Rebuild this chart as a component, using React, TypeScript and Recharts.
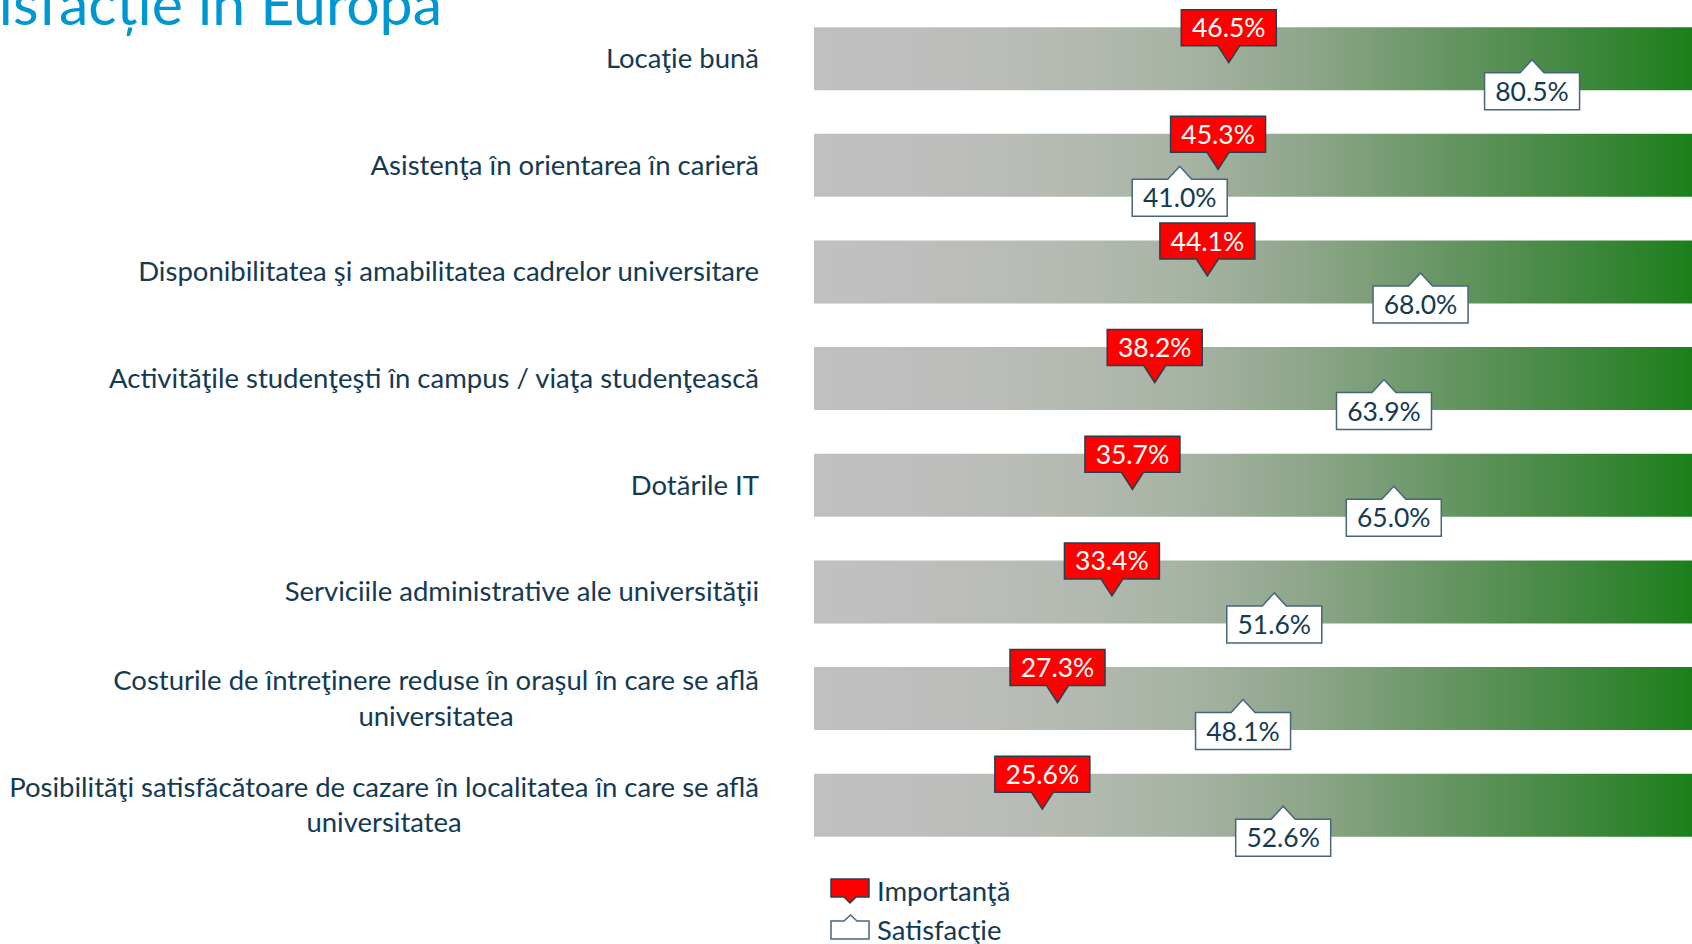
import React, { useLayoutEffect, useRef, useState } from 'react';
import { ComposedChart, Bar, XAxis, YAxis, Legend } from 'recharts';

const categories = [
  'Locaţie bună',
  'Asistenţa în orientarea în carieră',
  'Disponibilitatea şi amabilitatea cadrelor universitare',
  'Activităţile studenţeşti în campus / viaţa studenţească',
  'Dotările IT',
  'Serviciile administrative ale universităţii',
  'Costurile de întreţinere reduse în oraşul în care se află\nuniversitatea',
  'Posibilităţi satisfăcătoare de cazare în localitatea în care se află\nuniversitatea',
];
const importanta = [46.5, 45.3, 44.1, 38.2, 35.7, 33.4, 27.3, 25.6];
const satisfactie = [80.5, 41.0, 68.0, 63.9, 65.0, 51.6, 48.1, 52.6];
const seriesNames = ['Importanţă', 'Satisfacţie'];
const titleText = 'Importanță și satisfacție în Europa';

const data = categories.map((c, i) => ({ cat: c, imp: importanta[i], sat: satisfactie[i] }));

const FONT = 'Lato, "Open Sans", sans-serif';
const TEXT_COLOR = '#143a52';
const LABEL_SIZE = 27.5;
const CALLOUT_SIZE = 26.5;
const BOX_W = 95;
const BOX_H = 36;

function CategoryTick(props: any) {
  const { x, y, payload } = props;
  const lines = String(payload.value).split('\n');
  const ref = useRef<SVGTextElement>(null);
  const [w, setW] = useState(0);
  useLayoutEffect(() => {
    if (ref.current) setW(ref.current.getComputedTextLength());
  }, [payload.value]);
  const lh = 35.6;
  const y0 = y - ((lines.length - 1) * lh) / 2;
  const common = { fontFamily: FONT, fontSize: LABEL_SIZE, fill: TEXT_COLOR };
  return (
    <g>
      <text ref={ref} x={x} y={y0} dy="0.35em" textAnchor="end" {...common}>
        {lines[0]}
      </text>
      {lines.slice(1).map((l, i) => (
        <text key={i} x={x - w / 2} y={y0 + (i + 1) * lh} dy="0.35em" textAnchor="middle" {...common}>
          {l}
        </text>
      ))}
    </g>
  );
}

function ImpShape(props: any) {
  const { x, y, width, height, payload } = props;
  if (x == null || payload == null) return null;
  const tx = x + width;
  const ty = y + height / 2 + 4;
  const ph = 17;
  const pw = 11;
  const top = ty - ph - BOX_H;
  const l = tx - BOX_W / 2;
  const r = tx + BOX_W / 2;
  const d = `M${l},${top} H${r} V${top + BOX_H} H${tx + pw} L${tx},${ty} L${tx - pw},${top + BOX_H} H${l} Z`;
  return (
    <g>
      <path d={d} fill="#ff0000" stroke="#24404f" strokeWidth={1.5} strokeLinejoin="miter" />
      <text x={tx} y={top + BOX_H / 2} dy="0.36em" textAnchor="middle" fontFamily={FONT} fontSize={CALLOUT_SIZE} fill="#ffffff">
        {payload.imp.toFixed(1) + '%'}
      </text>
    </g>
  );
}

function SatShape(props: any) {
  const { x, y, width, height, payload } = props;
  if (x == null || payload == null) return null;
  const tx = x + width;
  const ty = y + height / 2 + 1;
  const ph = 13;
  const pw = 12;
  const bh = 37;
  const top = ty + ph;
  const l = tx - BOX_W / 2;
  const r = tx + BOX_W / 2;
  const d = `M${l},${top} H${tx - pw} L${tx},${ty} L${tx + pw},${top} H${r} V${top + bh} H${l} Z`;
  return (
    <g>
      <path d={d} fill="#ffffff" stroke="#46667a" strokeWidth={1.5} />
      <text x={tx} y={top + bh / 2} dy="0.36em" textAnchor="middle" fontFamily={FONT} fontSize={CALLOUT_SIZE} fill={TEXT_COLOR}>
        {payload.sat.toFixed(1) + '%'}
      </text>
    </g>
  );
}

function LegendContent(props: any) {
  const names: string[] =
    props.payload && props.payload.length === 2
      ? props.payload.map((p: any) => String(p.value))
      : seriesNames;
  return (
    <svg width={220} height={74} style={{ display: 'block' }}>
      <path d="M6,9 H44 V27 H31 L25,33 L19,27 H6 Z" fill="#ff0000" stroke="#24404f" strokeWidth={1.5} />
      <text x={52} y={31} fontFamily={FONT} fontSize={LABEL_SIZE} fill={TEXT_COLOR}>
        {names[0]}
      </text>
      <path d="M6,51 H19 L25.5,45 L32,51 H44 V69 H6 Z" fill="#ffffff" stroke="#46667a" strokeWidth={1.5} />
      <text x={52} y={70} fontFamily={FONT} fontSize={LABEL_SIZE} fill={TEXT_COLOR}>
        {names[1]}
      </text>
    </svg>
  );
}

export default function App() {
  return (
    <div
      style={{
        position: 'absolute',
        left: 0,
        top: 0,
        width: 1692,
        height: 944,
        overflow: 'hidden',
        background: '#ffffff',
      }}
    >
      <svg width={1692} height={60} style={{ position: 'absolute', left: 0, top: 0, zIndex: 2 }}>
        <text x={442} y={25} textAnchor="end" fontFamily={FONT} fontSize={59} fill="#0096d0">
          {titleText}
        </text>
      </svg>
      <ComposedChart
        width={1720}
        height={944}
        data={data}
        layout="vertical"
        margin={{ top: 5.2, right: 14, bottom: 11.7, left: 0 }}
        barSize={63}
        barGap={-63}
      >
        <defs>
          <linearGradient id="barGrad" x1="0" y1="0" x2="1" y2="0">
            <stop offset="0" stopColor="#c0c0c0" />
            <stop offset="0.15" stopColor="#bdbebc" />
            <stop offset="0.3" stopColor="#b3b9b0" />
            <stop offset="0.42" stopColor="#a6b3a3" />
            <stop offset="0.55" stopColor="#8ea68a" />
            <stop offset="0.66" stopColor="#739a6f" />
            <stop offset="0.78" stopColor="#548f51" />
            <stop offset="0.88" stopColor="#3a8638" />
            <stop offset="1" stopColor="#167e16" />
          </linearGradient>
        </defs>
        <XAxis type="number" domain={[0, 100]} hide />
        <YAxis
          type="category"
          dataKey="cat"
          width={814}
          axisLine={false}
          tickLine={false}
          tickSize={0}
          tickMargin={55}
          interval={0}
          tick={<CategoryTick />}
        />
        <Bar
          dataKey="imp"
          name={seriesNames[0]}
          fill="#ff0000"
          background={{ fill: 'url(#barGrad)' }}
          shape={<ImpShape />}
          isAnimationActive={false}
        />
        <Bar dataKey="sat" name={seriesNames[1]} fill="#ffffff" shape={<SatShape />} isAnimationActive={false} />
        <Legend
          content={<LegendContent />}
          wrapperStyle={{ position: 'absolute', left: 825, top: 870, width: 220, height: 74 }}
        />
      </ComposedChart>
    </div>
  );
}
